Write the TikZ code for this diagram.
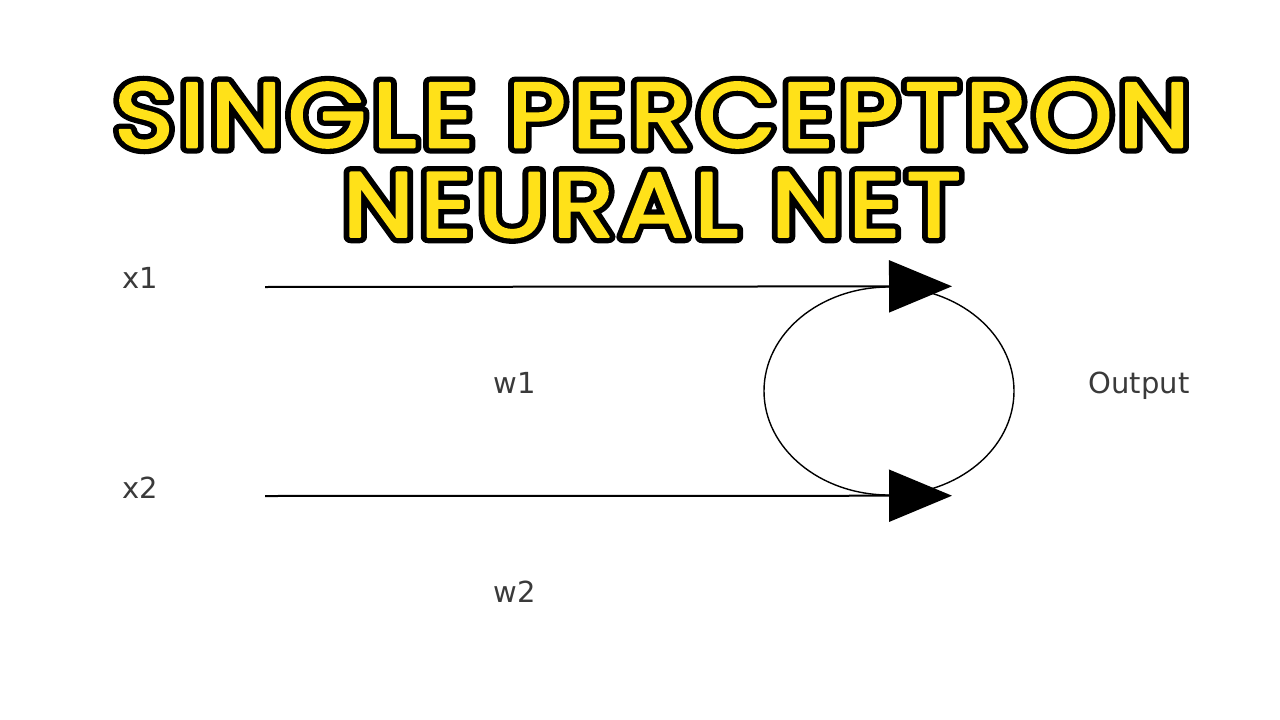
\documentclass[tikz,border=0pt]{standalone}
\usepackage{fontspec}
\setmainfont{DejaVu Sans}
\newfontfamily\titlefill{Poppins}[FakeBold=2.5,LetterSpace=6]
\newfontfamily\titleedge{Poppins}[FakeBold=14,LetterSpace=6]
\usetikzlibrary{arrows.meta,shapes.geometric,calc}
\definecolor{titleyellow}{HTML}{FFE119}
\definecolor{labelgray}{HTML}{3A3A3A}

% a thick black stroked copy under the yellow text, round joins
\newcommand\outlined[1]{%
  \scalebox{1.1}[1]{%
    \special{pdf:code 1 j 1 J}%
    \makebox[0pt][l]{\titleedge\color{black}#1}%
    {\titlefill\color{titleyellow}#1}}}

\begin{document}
\begin{tikzpicture}[x=1pt,y=-1pt,
  title/.style={font=\fontsize{92}{92}\selectfont,inner sep=0pt},
  lbl/.style={font=\fontsize{29}{29}\selectfont,text=labelgray,inner sep=0pt},
  wire/.style={line width=2pt,-{Triangle[length=63pt,width=52pt]}}]
  \useasboundingbox (0,0) rectangle (1280,720);

  \node[title] (head1) at (652,115) {\outlined{SINGLE PERCEPTRON}};
  \node[title] (head2) at (652,205) {\outlined{NEURAL NET}};

  \node[draw,ellipse,line width=1.4pt,minimum width=250pt,minimum height=208pt,inner sep=0pt] (neuron) at (889,391) {};

  \node[lbl] (x1) at (140,278) {x1};
  \node[lbl] (x2) at (140,488) {x2};
  \node[lbl] (w1) at (515,383) {w1};
  \node[lbl] (w2) at (515,592) {w2};
  \node[lbl] (out) at (1139,386) {Output};

  \coordinate (s1) at (265,287);
  \coordinate (s2) at (265,496);
  \coordinate (e1) at ($(neuron.north)+(63,0)$);
  \coordinate (e2) at ($(neuron.south)+(63,0)$);
  \draw[wire] (s1) -- (e1);
  \draw[wire] (s2) -- (e2);
\end{tikzpicture}
\end{document}
